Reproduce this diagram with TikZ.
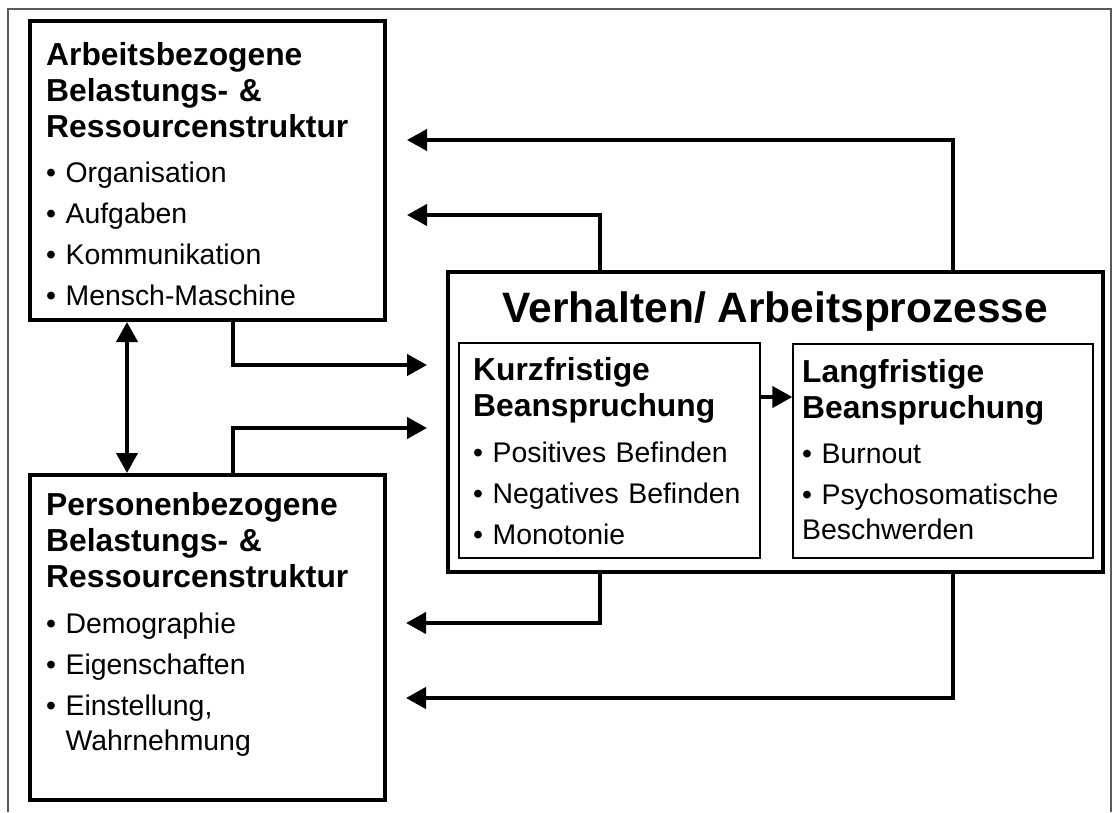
\documentclass[tikz,border=0pt]{standalone}
\usepackage{fontspec}
\setmainfont{Liberation Sans}
\usetikzlibrary{arrows.meta, positioning, calc}

\begin{document}
\begin{tikzpicture}[
    x=1pt, y=-1pt,
    >={Triangle[length=20pt, width=21pt]},
    thickbox/.style={rectangle, draw=black, fill=white, line width=4pt, inner sep=0pt},
    thinbox/.style={rectangle, draw=black, fill=white, line width=1.3pt, inner sep=0pt},
    head/.style={font=\fontsize{31.8}{36}\selectfont\bfseries, text width=320pt, align=left, anchor=base west, inner sep=0pt},
    items/.style={font=\fontsize{28.4}{35}\selectfont, text width=320pt, align=left, anchor=base west, inner sep=0pt},
    maintitle/.style={font=\fontsize{42.5}{48}\selectfont\bfseries, anchor=base, inner sep=0pt},
    arrow/.style={->, draw=black, line width=4.2pt},
    outerframe/.style={draw=black!65, line width=1.2pt}
]

\path[use as bounding box, fill=white] (0,0) rectangle (1120,812);
\draw[outerframe] (8,812) |- (1111,9) -- (1111,812);

% Arbeitsbezogene Struktur
\node[thickbox, minimum width=355pt, minimum height=299pt] (A) at (207.5,170.5) {};
\node[head] (Ahead) at (46,65) {Arbeitsbezogene\\Belastungs- \&\\Ressourcenstruktur};
\node[items] (Aitems) at (46,182) {\textbullet\ Organisation\\[6pt]\textbullet\ Aufgaben\\[6pt]\textbullet\ Kommunikation\\[6pt]\textbullet\ Mensch-Maschine};

% Personenbezogene Struktur
\node[thickbox, minimum width=355pt, minimum height=325pt] (P) at (207.5,637.5) {};
\node[head] (Phead) at (46,515) {Personenbezogene\\Belastungs- \&\\Ressourcenstruktur};
\node[items] (Pitems) at (46,633) {\textbullet\ Demographie\\[6pt]\textbullet\ Eigenschaften\\[6pt]\textbullet\ Einstellung,\\\phantom{\textbullet\ }Wahrnehmung};

% Verhalten / Arbeitsprozesse
\node[thickbox, minimum width=655pt, minimum height=300pt] (V) at (775.5,422) {};
\node[maintitle] (Vtitle) at (775.5,322) {Verhalten/ Arbeitsprozesse};

\node[thinbox, minimum width=301pt, minimum height=215pt] (K) at (609.5,450.5) {};
\node[head, text width=280pt] (Khead) at (473,380) {Kurzfristige\\Beanspruchung};
\node[items, text width=280pt] (Kitems) at (473,462) {\textbullet\ Positives Befinden\\[6pt]\textbullet\ Negatives Befinden\\[6pt]\textbullet\ Monotonie};

\node[thinbox, minimum width=300pt, minimum height=214pt] (L) at (943,451) {};
\node[head, text width=280pt] (Lhead) at (802,382) {Langfristige\\Beanspruchung};
\node[items, text width=280pt] (Litems) at (802,463) {\textbullet\ Burnout\\[6pt]\textbullet\ Psychosomatische\\Beschwerden};

% connectors
\draw[arrow, shorten >=20pt] (V.north -| 953,0) |- (A.east |- 0,140);
\draw[arrow, shorten >=20pt] (V.north -| 600,0) |- (A.east |- 0,215);
\draw[arrow, shorten >=19pt] (A.south -| 233,0) |- (V.west |- 0,365);
\draw[arrow, shorten >=19pt] (P.north -| 233,0) |- (V.west |- 0,428);
\draw[arrow, shorten >=19pt] (V.south -| 600,0) |- (P.east |- 0,623);
\draw[arrow, shorten >=19pt] (V.south -| 953,0) |- (P.east |- 0,698);
\draw[arrow, <->] (A.south -| 127,0) -- (P.north -| 127,0);
\draw[arrow] (K.east |- 0,397) -- (L.west |- 0,397);

\end{tikzpicture}
\end{document}
